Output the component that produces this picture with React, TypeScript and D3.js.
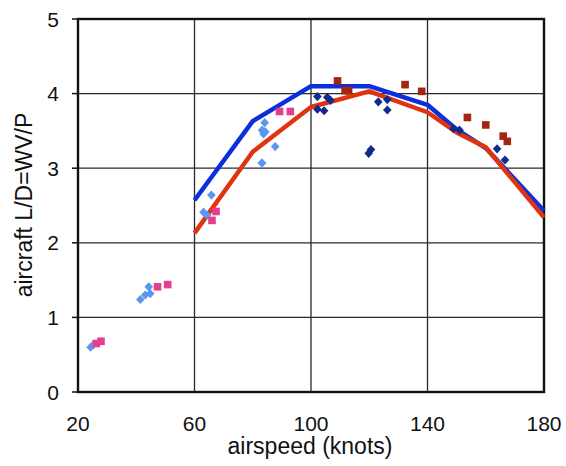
import React, { useEffect, useRef } from "react";
import * as d3 from "d3";

const width = 566;
const height = 466;
const marginLeft = 78;
const marginRight = 22;
const marginTop = 19;
const marginBottom = 74;

const xTicks = [20, 60, 100, 140, 180];
const yTicks = [0, 1, 2, 3, 4, 5];

// model curves
const blueSpeed = [60, 80, 100, 120, 140, 150, 160, 180];
const blueLD = [2.57, 3.63, 4.1, 4.1, 3.85, 3.52, 3.27, 2.43];
const redSpeed = [60, 80, 100, 120, 140, 150, 160, 180];
const redLD = [2.13, 3.22, 3.82, 4.03, 3.75, 3.48, 3.28, 2.34];

// light blue diamonds
const lightSpeed = [24.3, 25.2, 41.4, 43.1, 44.3, 44.8, 63.1, 64.3, 65.8, 83.1, 83.2, 84.1, 84.3, 83.7, 87.7, 83.2];
const lightLD = [0.6, 0.63, 1.24, 1.3, 1.41, 1.32, 2.41, 2.37, 2.64, 3.07, 3.51, 3.61, 3.49, 3.46, 3.29, 3.07];

// pink squares
const pinkSpeed = [26.3, 27.9, 47.3, 50.8, 67.4, 66.0, 89.2, 92.9];
const pinkLD = [0.65, 0.68, 1.41, 1.44, 2.42, 2.3, 3.76, 3.76];

// navy diamonds
const navySpeed = [102.2, 102.2, 104.5, 105.6, 106.7, 119.8, 120.6, 123.1, 126.2, 126.2, 148.9, 151, 163.9, 166.6];
const navyLD = [3.96, 3.79, 3.77, 3.95, 3.91, 3.2, 3.25, 3.89, 3.92, 3.78, 3.53, 3.51, 3.26, 3.11];

// maroon squares
const maroonSpeed = [109.1, 111.7, 112.9, 132.3, 138, 153.7, 160, 166, 167.4];
const maroonLD = [4.17, 4.04, 4.04, 4.12, 4.03, 3.68, 3.58, 3.43, 3.36];

const zip = (xs: number[], ys: number[]) => xs.map((x, i) => ({ x, y: ys[i] }));

const App = () => {
  const svgRef = useRef<SVGSVGElement>(null);

  useEffect(() => {
    const svg = d3.select(svgRef.current);
    svg.selectAll("*").remove();

    const xScale = d3
      .scaleLinear()
      .domain([20, 180])
      .range([marginLeft, width - marginRight]);
    const yScale = d3
      .scaleLinear()
      .domain([0, 5])
      .range([height - marginBottom, marginTop]);

    const font = "Liberation Sans, Arial, sans-serif";

    // grid
    svg
      .append("g")
      .selectAll("line.vx")
      .data(xTicks.slice(1, -1))
      .join("line")
      .attr("x1", (d) => xScale(d))
      .attr("x2", (d) => xScale(d))
      .attr("y1", yScale(0))
      .attr("y2", yScale(5))
      .attr("stroke", "#2a2a2a")
      .attr("stroke-width", 1.3);
    svg
      .append("g")
      .selectAll("line.hy")
      .data(yTicks.slice(1, -1))
      .join("line")
      .attr("x1", xScale(20))
      .attr("x2", xScale(180))
      .attr("y1", (d) => yScale(d))
      .attr("y2", (d) => yScale(d))
      .attr("stroke", "#2a2a2a")
      .attr("stroke-width", 1.3);

    // y axis ticks (outside)
    svg
      .append("g")
      .selectAll("line")
      .data(yTicks)
      .join("line")
      .attr("x1", xScale(20) - 6)
      .attr("x2", xScale(20))
      .attr("y1", (d) => yScale(d))
      .attr("y2", (d) => yScale(d))
      .attr("stroke", "#111")
      .attr("stroke-width", 1.5);

    // frame
    svg
      .append("rect")
      .attr("x", xScale(20))
      .attr("y", yScale(5))
      .attr("width", xScale(180) - xScale(20))
      .attr("height", yScale(0) - yScale(5))
      .attr("fill", "none")
      .attr("stroke", "#111")
      .attr("stroke-width", 2.4);

    // tick labels
    svg
      .append("g")
      .selectAll("text")
      .data(yTicks)
      .join("text")
      .attr("x", xScale(20) - 19)
      .attr("y", (d) => yScale(d))
      .attr("dy", "0.36em")
      .attr("text-anchor", "end")
      .style("font-family", font)
      .style("font-size", "21px")
      .attr("fill", "#111")
      .text((d) => d);
    svg
      .append("g")
      .selectAll("text")
      .data(xTicks)
      .join("text")
      .attr("x", (d) => xScale(d))
      .attr("y", yScale(0) + 39)
      .attr("text-anchor", "middle")
      .style("font-family", font)
      .style("font-size", "21px")
      .attr("fill", "#111")
      .text((d) => d);

    // axis titles
    svg
      .append("text")
      .attr("x", 310)
      .attr("y", 454)
      .attr("text-anchor", "middle")
      .style("font-family", font)
      .style("font-size", "23px")
      .attr("fill", "#111")
      .text("airspeed (knots)");
    svg
      .append("text")
      .attr("transform", `translate(32,205) rotate(-90)`)
      .attr("text-anchor", "middle")
      .style("font-family", font)
      .style("font-size", "23px")
      .attr("fill", "#111")
      .text("aircraft L/D=WV/P");

    // curves
    const chartLine = d3
      .line<{ x: number; y: number }>()
      .x((d) => xScale(d.x))
      .y((d) => yScale(d.y));

    svg
      .append("path")
      .datum(zip(blueSpeed, blueLD))
      .attr("fill", "none")
      .attr("stroke", "#0b2fdc")
      .attr("stroke-width", 4.5)
      .attr("stroke-linejoin", "round")
      .attr("d", chartLine);
    svg
      .append("path")
      .datum(zip(redSpeed, redLD))
      .attr("fill", "none")
      .attr("stroke", "#e0330f")
      .attr("stroke-width", 4.5)
      .attr("stroke-linejoin", "round")
      .attr("d", chartLine);

    // markers
    const diamond = "M0,-4.6L4.3,0L0,4.6L-4.3,0Z";
    const addDiamonds = (xs: number[], ys: number[], color: string) =>
      svg
        .append("g")
        .selectAll("path")
        .data(zip(xs, ys))
        .join("path")
        .attr("transform", (d) => `translate(${xScale(d.x)},${yScale(d.y)})`)
        .attr("d", diamond)
        .attr("fill", color);
    const addSquares = (xs: number[], ys: number[], color: string) =>
      svg
        .append("g")
        .selectAll("rect")
        .data(zip(xs, ys))
        .join("rect")
        .attr("x", (d) => xScale(d.x) - 3.8)
        .attr("y", (d) => yScale(d.y) - 3.8)
        .attr("width", 7.6)
        .attr("height", 7.6)
        .attr("fill", color);

    addDiamonds(lightSpeed, lightLD, "#5b97ec");
    addSquares(pinkSpeed, pinkLD, "#e23f8e");
    addDiamonds(navySpeed, navyLD, "#102a8e");
    addSquares(maroonSpeed, maroonLD, "#a22611");
  }, []);

  return (
    <svg
      ref={svgRef}
      width={width}
      height={height}
      style={{ position: "absolute", left: 0, top: 0, background: "#fff" }}
    />
  );
};

export default App;
